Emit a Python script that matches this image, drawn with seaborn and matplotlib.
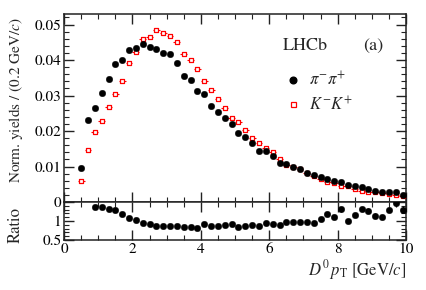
import matplotlib
matplotlib.use("Agg")
import matplotlib.pyplot as plt
import seaborn as sns
import pandas as pd
from matplotlib.ticker import MultipleLocator, FixedLocator
from matplotlib.lines import Line2D

# ---- data ----
pt = [0.5, 0.7, 0.9, 1.1, 1.3, 1.5, 1.7, 1.9, 2.1, 2.3, 2.5, 2.7, 2.9, 3.1, 3.3, 3.5,
      3.7, 3.9, 4.1, 4.3, 4.5, 4.7, 4.9, 5.1, 5.3, 5.5, 5.7, 5.9, 6.1, 6.3, 6.5, 6.7,
      6.9, 7.1, 7.3, 7.5, 7.7, 7.9, 8.1, 8.3, 8.5, 8.7, 8.9, 9.1, 9.3, 9.5, 9.7, 9.9]
pipi = [0.0097, 0.0230, 0.0266, 0.0308, 0.0347, 0.0389, 0.0400, 0.0427, 0.0435, 0.0445,
        0.0438, 0.0431, 0.0420, 0.0416, 0.0392, 0.0354, 0.0343, 0.0314, 0.0305, 0.0271,
        0.0254, 0.0237, 0.0221, 0.0195, 0.0182, 0.0165, 0.0145, 0.0144, 0.0131, 0.0111,
        0.0106, 0.0099, 0.0094, 0.0081, 0.0075, 0.0070, 0.0066, 0.0060, 0.0056, 0.0049,
        0.0045, 0.0041, 0.0036, 0.0032, 0.0028, 0.0029, 0.0028, 0.0021]
kk = [0.0060, 0.0147, 0.0197, 0.0228, 0.0267, 0.0304, 0.0342, 0.0392, 0.0422, 0.0458,
      0.0465, 0.0485, 0.0476, 0.0469, 0.0452, 0.0418, 0.0400, 0.0374, 0.0340, 0.0315,
      0.0291, 0.0264, 0.0238, 0.0226, 0.0204, 0.0181, 0.0166, 0.0152, 0.0141, 0.0122,
      0.0105, 0.0099, 0.0093, 0.0082, 0.0074, 0.0066, 0.0056, 0.0053, 0.0046, 0.0045,
      0.0037, 0.0032, 0.0029, 0.0027, 0.0024, 0.0022, 0.0020, 0.0016]
ratio_pt = pt[2:]
ratio = [1.36, 1.37, 1.32, 1.30, 1.18, 1.09, 1.02, 0.95, 0.92, 0.88, 0.88, 0.88, 0.86,
         0.84, 0.84, 0.82, 0.91, 0.87, 0.88, 0.90, 0.92, 0.84, 0.88, 0.90, 0.86, 0.95,
         0.93, 0.885, 0.98, 0.98, 0.98, 0.97, 0.95, 1.06, 1.18, 1.11, 1.31, 0.99, 1.17,
         1.32, 1.27, 1.14, 1.11, 1.30, 1.48, 1.30]
ratio_err = [0.01, 0.01, 0.01, 0.01, 0.01, 0.01, 0.01, 0.01, 0.01, 0.01, 0.01, 0.01, 0.01,
             0.01, 0.01, 0.01, 0.01, 0.01, 0.01, 0.01, 0.02, 0.02, 0.02, 0.02, 0.02, 0.02,
             0.02, 0.02, 0.03, 0.03, 0.03, 0.03, 0.03, 0.04, 0.04, 0.04, 0.06, 0.05, 0.05,
             0.06, 0.06, 0.06, 0.06, 0.07, 0.10, 0.09]
bin_half = 0.1

df = pd.DataFrame({"pt": pt, "pipi": pipi, "kk": kk})
dr = pd.DataFrame({"pt": ratio_pt, "ratio": ratio, "err": ratio_err})

sns.set_theme(style="ticks")
plt.rcParams["font.family"] = ["STIXGeneral", "DejaVu Serif"]
plt.rcParams["mathtext.fontset"] = "stix"
plt.rcParams["axes.linewidth"] = 1.1

fig = plt.figure(figsize=(4.27, 2.90), dpi=100)
ax = fig.add_axes([0.150, 0.3034, 0.801, 0.6486])
axr = fig.add_axes([0.150, 0.1724, 0.801, 0.1310], sharex=ax)

# main panel
ax.errorbar(df["pt"], df["kk"], xerr=bin_half, fmt="none", ecolor="red", elinewidth=0.8, zorder=2)
sns.scatterplot(data=df, x="pt", y="kk", ax=ax, marker="s", s=11, facecolor="white",
                edgecolor="red", linewidth=0.9, zorder=3)
sns.scatterplot(data=df, x="pt", y="pipi", ax=ax, marker="o", s=22, color="black",
                edgecolor="black", linewidth=0.3, zorder=4)

ax.set_xlim(0, 10)
ax.set_ylim(0, 0.053)
ax.yaxis.set_major_locator(FixedLocator([0, 0.01, 0.02, 0.03, 0.04, 0.05]))
ax.yaxis.set_minor_locator(MultipleLocator(0.002))
ax.set_yticklabels(["0", "0.01", "0.02", "0.03", "0.04", "0.05"])
ax.xaxis.set_major_locator(MultipleLocator(2))
ax.xaxis.set_minor_locator(MultipleLocator(0.5))
ax.set_xlabel("")
ax.set_ylabel("")
ax.tick_params(axis="x", labelbottom=False)

for a in (ax, axr):
    a.tick_params(which="both", direction="in", top=True, right=True, labelsize=11,
                  colors="#222222", labelcolor="black", pad=2)
    a.tick_params(which="major", length=7, width=1.0)
    a.tick_params(which="minor", length=3.5, width=0.8)
    for s in a.spines.values():
        s.set_color("#222222")

# ratio panel
axr.errorbar(dr["pt"], dr["ratio"], yerr=dr["err"], fmt="none", ecolor="black",
             elinewidth=0.9, zorder=2)
sns.scatterplot(data=dr, x="pt", y="ratio", ax=axr, marker="o", s=22, color="black",
                edgecolor="black", linewidth=0.3, zorder=3)
axr.set_ylim(0.5, 1.5)
axr.yaxis.set_major_locator(FixedLocator([0.5, 1.0, 1.5]))
axr.set_yticklabels(["0.5", "1", ""])
axr.yaxis.set_minor_locator(MultipleLocator(0.1))
axr.set_xlim(0, 10)
axr.set_xticks([0, 2, 4, 6, 8, 10])
axr.set_xticklabels(["0", "2", "4", "6", "8", "10"])
axr.set_ylabel("")
axr.set_xlabel(r"$D^{0}\,p_{\mathrm{T}}$ [GeV/$c$]", fontsize=12, loc="right", labelpad=1)

fig.text(0.037, 0.655, r"Norm. yields / (0.2 GeV/$c$)", rotation=90, ha="center",
         va="center", fontsize=11)
fig.text(0.037, 0.225, "Ratio", rotation=90, ha="center", va="center", fontsize=12)

ax.text(0.64, 0.83, "LHCb", transform=ax.transAxes, fontsize=13, ha="left", va="center")
ax.text(0.875, 0.83, "(a)", transform=ax.transAxes, fontsize=13, ha="left", va="center")

handles = [Line2D([], [], marker="o", ls="none", color="black", markersize=4.8),
           Line2D([], [], marker="s", ls="none", markerfacecolor="white",
                  markeredgecolor="red", markersize=3.6, markeredgewidth=0.9)]
ax.legend(handles, [r"$\pi^{-}\pi^{+}$", r"$K^{-}K^{+}$"], loc="upper left",
          bbox_to_anchor=(0.625, 0.74), frameon=False, fontsize=12, handlelength=0.8,
          handletextpad=0.6, labelspacing=0.35, borderpad=0)

fig.savefig("out.png", dpi=100)
